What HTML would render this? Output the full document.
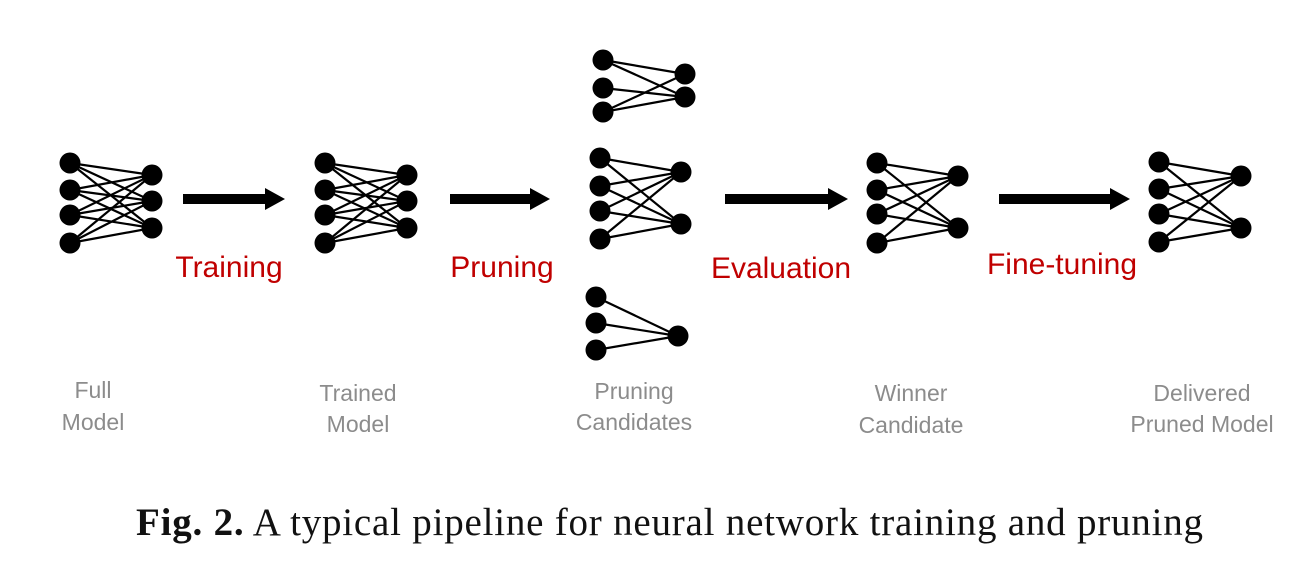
<!DOCTYPE html>
<html><head><meta charset="utf-8"><style>
html,body{margin:0;padding:0;background:#fff;}
svg{display:block}
.r{font-family:"Liberation Sans",sans-serif;font-size:30px;fill:#c00000}
.g{font-family:"Liberation Sans",sans-serif;font-size:23px;fill:#8c8c8c}
.c{font-family:"Liberation Serif",serif;font-size:39px;fill:#111}
line{stroke:#000;stroke-width:2.2}
circle{fill:#000}
</style></head><body>
<svg width="1310" height="570" viewBox="0 0 1310 570">
<g>
<line x1="70" y1="163" x2="152" y2="175"/><line x1="70" y1="163" x2="152" y2="201"/><line x1="70" y1="163" x2="152" y2="228"/>
<line x1="70" y1="190" x2="152" y2="175"/><line x1="70" y1="190" x2="152" y2="201"/><line x1="70" y1="190" x2="152" y2="228"/>
<line x1="70" y1="215" x2="152" y2="175"/><line x1="70" y1="215" x2="152" y2="201"/><line x1="70" y1="215" x2="152" y2="228"/>
<line x1="70" y1="243" x2="152" y2="175"/><line x1="70" y1="243" x2="152" y2="201"/><line x1="70" y1="243" x2="152" y2="228"/>
<circle cx="70" cy="163" r="10.5"/><circle cx="70" cy="190" r="10.5"/><circle cx="70" cy="215" r="10.5"/><circle cx="70" cy="243" r="10.5"/>
<circle cx="152" cy="175" r="10.5"/><circle cx="152" cy="201" r="10.5"/><circle cx="152" cy="228" r="10.5"/>
</g>
<g>
<line x1="325" y1="163" x2="407" y2="175"/><line x1="325" y1="163" x2="407" y2="201"/><line x1="325" y1="163" x2="407" y2="228"/>
<line x1="325" y1="190" x2="407" y2="175"/><line x1="325" y1="190" x2="407" y2="201"/><line x1="325" y1="190" x2="407" y2="228"/>
<line x1="325" y1="215" x2="407" y2="175"/><line x1="325" y1="215" x2="407" y2="201"/><line x1="325" y1="215" x2="407" y2="228"/>
<line x1="325" y1="243" x2="407" y2="175"/><line x1="325" y1="243" x2="407" y2="201"/><line x1="325" y1="243" x2="407" y2="228"/>
<circle cx="325" cy="163" r="10.5"/><circle cx="325" cy="190" r="10.5"/><circle cx="325" cy="215" r="10.5"/><circle cx="325" cy="243" r="10.5"/>
<circle cx="407" cy="175" r="10.5"/><circle cx="407" cy="201" r="10.5"/><circle cx="407" cy="228" r="10.5"/>
</g>
<g>
<line x1="603" y1="60" x2="685" y2="74"/><line x1="603" y1="60" x2="685" y2="97"/>
<line x1="603" y1="88" x2="685" y2="97"/>
<line x1="603" y1="112" x2="685" y2="74"/><line x1="603" y1="112" x2="685" y2="97"/>
<circle cx="603" cy="60" r="10.5"/><circle cx="603" cy="88" r="10.5"/><circle cx="603" cy="112" r="10.5"/>
<circle cx="685" cy="74" r="10.5"/><circle cx="685" cy="97" r="10.5"/>
</g>
<g>
<line x1="600" y1="158" x2="681" y2="172"/><line x1="600" y1="158" x2="681" y2="224"/>
<line x1="600" y1="186" x2="681" y2="172"/><line x1="600" y1="186" x2="681" y2="224"/>
<line x1="600" y1="211" x2="681" y2="172"/><line x1="600" y1="211" x2="681" y2="224"/>
<line x1="600" y1="239" x2="681" y2="172"/><line x1="600" y1="239" x2="681" y2="224"/>
<circle cx="600" cy="158" r="10.5"/><circle cx="600" cy="186" r="10.5"/><circle cx="600" cy="211" r="10.5"/><circle cx="600" cy="239" r="10.5"/>
<circle cx="681" cy="172" r="10.5"/><circle cx="681" cy="224" r="10.5"/>
</g>
<g>
<line x1="596" y1="297" x2="678" y2="336"/><line x1="596" y1="323" x2="678" y2="336"/><line x1="596" y1="350" x2="678" y2="336"/>
<circle cx="596" cy="297" r="10.5"/><circle cx="596" cy="323" r="10.5"/><circle cx="596" cy="350" r="10.5"/>
<circle cx="678" cy="336" r="10.5"/>
</g>
<g>
<line x1="877" y1="163" x2="958" y2="176"/><line x1="877" y1="163" x2="958" y2="228"/>
<line x1="877" y1="190" x2="958" y2="176"/><line x1="877" y1="190" x2="958" y2="228"/>
<line x1="877" y1="214" x2="958" y2="176"/><line x1="877" y1="214" x2="958" y2="228"/>
<line x1="877" y1="243" x2="958" y2="176"/><line x1="877" y1="243" x2="958" y2="228"/>
<circle cx="877" cy="163" r="10.5"/><circle cx="877" cy="190" r="10.5"/><circle cx="877" cy="214" r="10.5"/><circle cx="877" cy="243" r="10.5"/>
<circle cx="958" cy="176" r="10.5"/><circle cx="958" cy="228" r="10.5"/>
</g>
<g>
<line x1="1159" y1="162" x2="1241" y2="176"/><line x1="1159" y1="162" x2="1241" y2="228"/>
<line x1="1159" y1="189" x2="1241" y2="176"/><line x1="1159" y1="189" x2="1241" y2="228"/>
<line x1="1159" y1="214" x2="1241" y2="176"/><line x1="1159" y1="214" x2="1241" y2="228"/>
<line x1="1159" y1="242" x2="1241" y2="176"/><line x1="1159" y1="242" x2="1241" y2="228"/>
<circle cx="1159" cy="162" r="10.5"/><circle cx="1159" cy="189" r="10.5"/><circle cx="1159" cy="214" r="10.5"/><circle cx="1159" cy="242" r="10.5"/>
<circle cx="1241" cy="176" r="10.5"/><circle cx="1241" cy="228" r="10.5"/>
</g>
<polygon points="183,194 265,194 265,188 285,199 265,210 265,204 183,204"/>
<polygon points="450,194 530,194 530,188 550,199 530,210 530,204 450,204"/>
<polygon points="725,194 828,194 828,188 848,199 828,210 828,204 725,204"/>
<polygon points="999,194 1110,194 1110,188 1130,199 1110,210 1110,204 999,204"/>
<text class="r" x="229" y="277" text-anchor="middle">Training</text>
<text class="r" x="502" y="277" text-anchor="middle">Pruning</text>
<text class="r" x="781" y="278" text-anchor="middle">Evaluation</text>
<text class="r" x="1062" y="274" text-anchor="middle">Fine-tuning</text>
<text class="g" x="93" y="398" text-anchor="middle">Full</text>
<text class="g" x="93" y="430" text-anchor="middle">Model</text>
<text class="g" x="358" y="401" text-anchor="middle">Trained</text>
<text class="g" x="358" y="432" text-anchor="middle">Model</text>
<text class="g" x="634" y="399" text-anchor="middle">Pruning</text>
<text class="g" x="634" y="430" text-anchor="middle">Candidates</text>
<text class="g" x="911" y="401" text-anchor="middle">Winner</text>
<text class="g" x="911" y="433" text-anchor="middle">Candidate</text>
<text class="g" x="1202" y="401" text-anchor="middle">Delivered</text>
<text class="g" x="1202" y="432" text-anchor="middle">Pruned Model</text>
<text class="c" x="136" y="535" textLength="1067" lengthAdjust="spacing"><tspan font-weight="bold">Fig. 2.</tspan> A typical pipeline for neural network training and pruning</text>
</svg>
</body></html>
